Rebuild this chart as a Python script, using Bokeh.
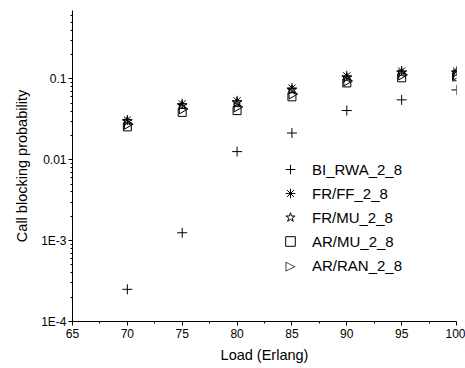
import math
from bokeh.plotting import figure
from bokeh.models import Range1d, FixedTicker, CustomJSTickFormatter, Label, LegendItem
from bokeh.embed import file_html
from bokeh.resources import INLINE

loads = [70, 75, 80, 85, 90, 95, 100]
bi_rwa = [2.5e-4, 1.25e-3, 0.0126, 0.0214, 0.0406, 0.055, 0.073]
fr_ff = [0.031, 0.049, 0.0535, 0.077, 0.109, 0.125, 0.125]
fr_mu = [0.030, 0.047, 0.051, 0.073, 0.103, 0.119, 0.119]
ar_mu = [0.0255, 0.0385, 0.0405, 0.060, 0.089, 0.103, 0.106]
ar_ran = [0.0275, 0.0425, 0.045, 0.065, 0.094, 0.112, 0.112]

y_ticks = [1e-4, 1e-3, 1e-2, 1e-1]
y_tick_labels = ["1E-4", "1E-3", "0.01", "0.1"]
x_ticks = [65, 70, 75, 80, 85, 90, 95, 100]

FONT = "Liberation Sans"

p = figure(width=465, height=368, y_axis_type="log",
           x_range=Range1d(65, 100), y_range=Range1d(1e-4, 0.7),
           output_backend="svg", toolbar_location=None,
           min_border_left=72, min_border_right=9, min_border_top=10, min_border_bottom=47)
p.outline_line_color = None
p.grid.visible = False
p.background_fill_color = "white"
p.border_fill_color = "white"

minor_y = [k * 10.0 ** e for e in range(-4, 0) for k in range(2, 10) if k * 10.0 ** e <= 0.7]
p.yaxis.ticker = FixedTicker(ticks=y_ticks, minor_ticks=minor_y)
p.yaxis.formatter = CustomJSTickFormatter(args=dict(vals=y_ticks, labs=y_tick_labels), code="""
for (let i = 0; i < vals.length; i++) {
  if (Math.abs(Math.log10(tick) - Math.log10(vals[i])) < 1e-6) return labs[i];
}
return '';
""")
minor_x = [x + 2.5 for x in x_ticks[:-1]]
p.xaxis.ticker = FixedTicker(ticks=x_ticks, minor_ticks=minor_x)

for ax in (p.xaxis, p.yaxis):
    ax.axis_line_color = "black"
    ax.major_tick_line_color = "black"
    ax.minor_tick_line_color = "black"
    ax.major_tick_in = 0
    ax.major_tick_out = 4
    ax.minor_tick_in = 0
    ax.minor_tick_out = 2
    ax.major_label_text_font = FONT
    ax.major_label_text_font_size = "12px"
    ax.major_label_text_color = "black"
    ax.axis_label_text_font = FONT
    ax.axis_label_text_font_size = "14.5px"
    ax.axis_label_text_font_style = "normal"
    ax.axis_label_text_color = "black"

p.xaxis.axis_label = "Load (Erlang)"
p.yaxis.axis_label = "Call blocking probability"
p.xaxis.major_label_standoff = 3
p.xaxis.axis_label_standoff = 6
p.yaxis.major_label_standoff = 2
p.yaxis.axis_label_standoff = 8

kw = dict(size=10, line_color="black", fill_alpha=0, line_width=1)
p.scatter(loads, bi_rwa, marker="cross", legend_label="BI_RWA_2_8", **kw)
p.scatter(loads, fr_ff, marker="asterisk", legend_label="FR/FF_2_8", **kw)
p.scatter(loads, fr_mu, marker="star", legend_label="FR/MU_2_8", **kw)
p.scatter(loads, ar_mu, marker="square", legend_label="AR/MU_2_8",
          size=8, line_color="black", fill_alpha=0, line_width=1)
r_ran = p.scatter(loads, ar_ran, marker="triangle", angle=-math.pi / 2, **kw)
# legend entry for the right-pointing triangle: an invisible swatch plus a text symbol
r_dummy = p.scatter([], [], marker="triangle", line_alpha=0, fill_alpha=0)

lg = p.legend[0]
lg.items.append(LegendItem(label="AR/RAN_2_8", renderers=[r_dummy]))
LX, LY = 206, 44
lg.location = (LX, LY)
lg.background_fill_alpha = 0
lg.border_line_color = None
lg.padding = 0
lg.margin = 0
lg.spacing = -6
lg.glyph_width = 24
lg.glyph_height = 24
lg.label_height = 24
lg.label_standoff = 10
lg.label_text_font = FONT
lg.label_text_font_size = "15px"
lg.label_text_color = "black"

p.add_layout(Label(x=LX + 12, y=LY + 12, x_units="screen", y_units="screen", text="\u25b7",
                   text_font="DejaVu Sans", text_font_size="13px", text_color="black",
                   text_align="center", text_baseline="middle"))

open("out.html", "w").write(file_html(p, INLINE))
